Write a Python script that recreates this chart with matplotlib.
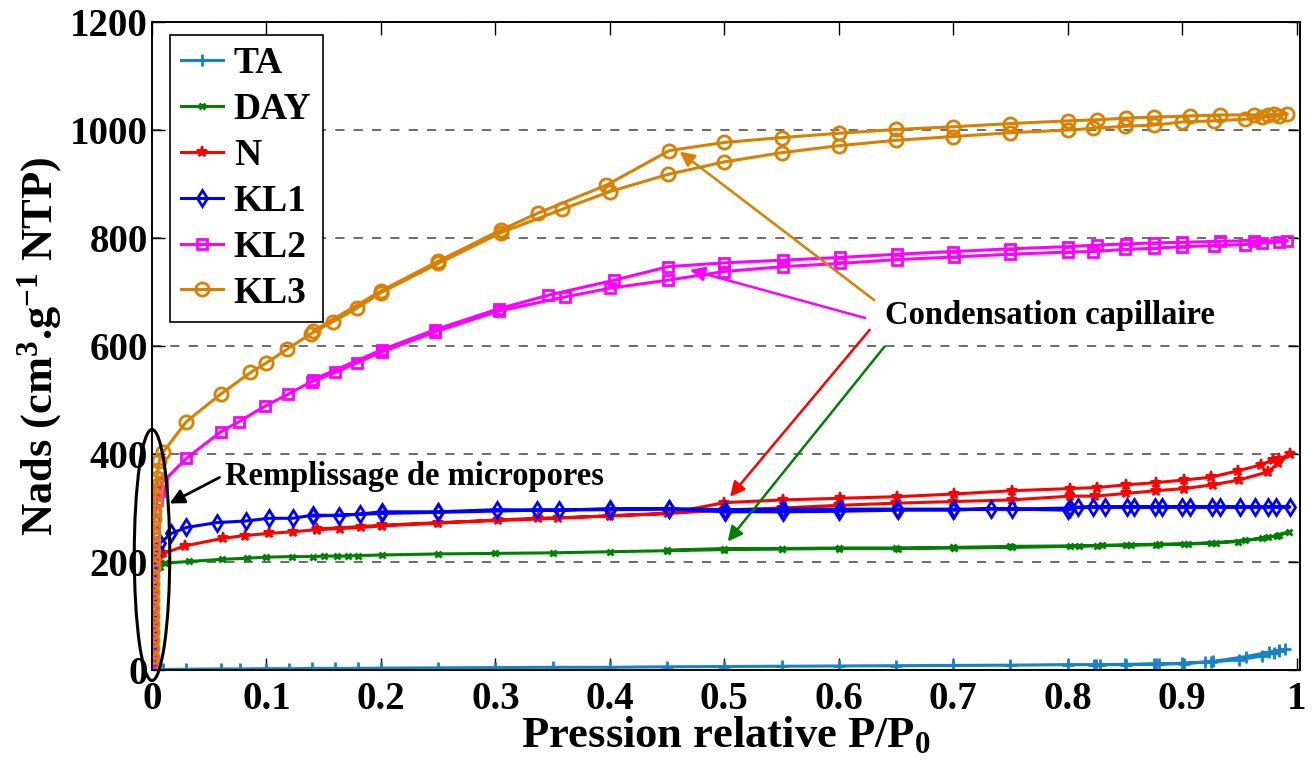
import matplotlib
matplotlib.use("Agg")
import matplotlib.pyplot as plt
from matplotlib.patches import Ellipse

# -------------------------
# DATA (adsorption then desorption)
# -------------------------

ta_p = [0.0099, 0.030, 0.060, 0.077, 0.100, 0.120, 0.140, 0.160, 0.180, 0.200,
        0.250, 0.300, 0.350, 0.400, 0.450, 0.500, 0.550, 0.600, 0.650, 0.700,
        0.750, 0.800, 0.825, 0.850, 0.875, 0.900, 0.925, 0.950, 0.970, 0.980,
        0.985, 0.990,
        0.985, 0.976, 0.956, 0.927, 0.920, 0.902, 0.880, 0.877, 0.851, 0.828, 0.823]
ta_n = [1, 1.5, 2, 2, 2.5, 2.5, 3, 3, 3, 3.5,
        4, 4.5, 5, 5, 6, 6.5, 7, 7.5, 8, 8.5,
        9, 10, 10, 10.5, 11, 12.5, 15, 19, 26, 31,
        35, 38,
        37, 33, 25, 16, 15, 12, 11, 11, 10, 10, 10]

day_p = [0.00001, 0.00003, 0.00006, 0.0001, 0.00016, 0.00025, 0.0004, 0.0006, 0.0009,
         0.0013, 0.002, 0.003, 0.0045,
         0.007, 0.011, 0.032, 0.061, 0.083, 0.100, 0.122, 0.141, 0.150, 0.162, 0.171,
         0.180, 0.2006, 0.250, 0.300, 0.350, 0.400, 0.450, 0.500, 0.550, 0.600, 0.652,
         0.701, 0.751, 0.802, 0.826, 0.851, 0.877, 0.902, 0.925, 0.949, 0.975, 0.983, 0.993,
         0.985, 0.970, 0.955, 0.930, 0.905, 0.880, 0.855, 0.830, 0.810, 0.750, 0.700,
         0.650, 0.600, 0.550, 0.500, 0.450]
day_n = [12, 28, 44, 60, 76, 92, 108, 124, 140,
         155, 168, 180, 188,
         191, 198, 201, 205, 207, 209, 210, 210, 211, 211, 211,
         212, 213, 215, 216, 217, 219, 221, 223, 224, 225, 225,
         226, 227, 229, 230, 231, 232, 233, 235, 238, 246, 248, 256,
         250, 244, 240, 236, 234, 233, 232, 231, 230, 229, 227,
         226, 226, 225, 225, 222]

n_p = [0.00001, 0.00003, 0.00006, 0.0001, 0.00016, 0.00025, 0.0004, 0.0006, 0.0009,
       0.0013, 0.002, 0.003, 0.0045, 0.0065,
       0.0099, 0.029, 0.062, 0.081, 0.102, 0.123, 0.144, 0.164, 0.183, 0.2006,
       0.250, 0.302, 0.337, 0.400, 0.451, 0.500, 0.550, 0.600, 0.650, 0.700,
       0.751, 0.802, 0.824, 0.851, 0.877, 0.902, 0.927, 0.950, 0.975, 0.984, 0.994,
       0.985, 0.979, 0.969, 0.949, 0.925, 0.902, 0.877, 0.851, 0.826, 0.802, 0.751,
       0.701, 0.651, 0.601, 0.551, 0.500, 0.451, 0.400, 0.355, 0.250, 0.2006, 0.144]
n_n = [12, 28, 44, 60, 76, 92, 108, 124, 140,
       155, 170, 185, 198, 208,
       216, 230, 244, 249, 253, 256, 260, 262, 264, 267,
       272, 278, 281, 285, 290, 296, 300, 305, 309, 312,
       315, 322, 322, 327, 332, 336, 343, 352, 367, 383, 400,
       391, 389, 380, 369, 357, 352, 347, 343, 338, 336, 332,
       326, 321, 318, 315, 310, 290, 286, 281, 273, 268, 261]

kl1_p = [0.00001, 0.00003, 0.00006, 0.0001, 0.00016, 0.00025, 0.0004, 0.0006, 0.0009,
         0.0013, 0.002, 0.003, 0.0045, 0.007,
         0.017, 0.030, 0.0565, 0.082, 0.102, 0.123, 0.141, 0.163, 0.182, 0.2006,
         0.250, 0.301, 0.356, 0.400, 0.452, 0.501, 0.551, 0.601, 0.651, 0.701,
         0.751, 0.802, 0.822, 0.852, 0.876, 0.900, 0.926, 0.951, 0.964, 0.975, 0.994,
         0.982, 0.933, 0.907, 0.882, 0.858, 0.833, 0.809, 0.800, 0.733, 0.700,
         0.652, 0.600, 0.551, 0.501, 0.452, 0.400, 0.336, 0.250, 0.2006, 0.141]
kl1_n = [15, 35, 55, 75, 95, 115, 135, 155, 170,
         185, 200, 212, 224, 235,
         253, 264, 273, 276, 281, 281, 287, 286, 289, 293,
         293, 297, 296, 299, 299, 297, 298, 298, 298, 298,
         298, 300, 302, 302, 302, 302, 302, 302, 302, 302, 302,
         302, 302, 302, 302, 302, 302, 302, 296, 299, 296,
         296, 294, 293, 293, 298, 297, 296, 292, 290, 285]

kl2_p = [0.00001, 0.00002, 0.00004, 0.00007, 0.0001, 0.00014, 0.0002, 0.00028, 0.0004,
         0.00055, 0.00075, 0.001, 0.0014, 0.002, 0.003, 0.0045, 0.0065, 0.0085,
         0.030, 0.060, 0.076, 0.099, 0.119, 0.1395, 0.160, 0.179, 0.2006, 0.247,
         0.303, 0.361, 0.400, 0.451, 0.500, 0.551, 0.601, 0.651, 0.701, 0.750,
         0.800, 0.822, 0.850, 0.875, 0.900, 0.928, 0.955, 0.970, 0.985, 0.992,
         0.963, 0.933, 0.900, 0.875, 0.851, 0.826, 0.800, 0.750, 0.700, 0.651,
         0.601, 0.551, 0.500, 0.451, 0.404, 0.346, 0.303, 0.247, 0.2006, 0.141]
kl2_n = [15, 35, 55, 75, 95, 115, 135, 155, 175,
         195, 215, 235, 255, 275, 295, 315, 332, 346,
         392, 441, 460, 489, 511, 534, 551, 569, 589, 626,
         665, 691, 707, 722, 738, 747, 753, 760, 765, 770,
         774, 775, 779, 781, 784, 786, 788, 791, 793, 795,
         795, 794, 792, 791, 789, 787, 784, 780, 775, 770,
         764, 759, 754, 747, 722, 694, 669, 630, 593, 538]

kl3_p = [0.00001, 0.00002, 0.00004, 0.00006, 0.00008, 0.0001, 0.00013, 0.00016, 0.0002,
         0.00025, 0.0003, 0.00037, 0.00045, 0.00055, 0.00067, 0.0008, 0.001, 0.0012,
         0.0015, 0.0018, 0.0022, 0.0027, 0.0033, 0.004, 0.005, 0.0065, 0.0099,
         0.030, 0.060, 0.086, 0.100, 0.118, 0.139, 0.158, 0.179, 0.200, 0.250,
         0.305, 0.358, 0.400, 0.451, 0.500, 0.550, 0.600, 0.650, 0.700, 0.750,
         0.800, 0.822, 0.850, 0.875, 0.900, 0.928, 0.955, 0.970, 0.985, 0.992,
         0.980, 0.975, 0.963, 0.933, 0.907, 0.875, 0.851, 0.826, 0.800, 0.750,
         0.700, 0.650, 0.600, 0.550, 0.500, 0.452, 0.397, 0.337, 0.305, 0.250,
         0.200, 0.141]
kl3_n = [12, 25, 40, 55, 70, 85, 100, 115, 130,
         145, 160, 175, 190, 205, 220, 235, 250, 265,
         280, 295, 310, 325, 340, 355, 370, 388, 404,
         460, 511, 551, 569, 594, 623, 645, 670, 699, 753,
         810, 853, 886, 918, 941, 958, 971, 981, 988, 995,
         1000, 1003, 1007, 1009, 1015, 1017, 1020, 1024, 1026, 1030,
         1029, 1028, 1028, 1028, 1026, 1024, 1022, 1019, 1017, 1012,
         1006, 1001, 994, 986, 977, 962, 898, 846, 815, 757,
         702, 628]

# -------------------------
# STYLE
# -------------------------

plt.rcParams['font.family'] = ['Liberation Serif', 'DejaVu Serif']
plt.rcParams['font.weight'] = 'bold'
plt.rcParams['axes.labelweight'] = 'bold'
plt.rcParams['mathtext.fontset'] = 'custom'
plt.rcParams['mathtext.bf'] = 'Liberation Serif:bold'
plt.rcParams['mathtext.rm'] = 'Liberation Serif:bold'
plt.rcParams['mathtext.default'] = 'bf'

fig = plt.figure(figsize=(13.15, 7.6), dpi=100)
ax = fig.add_axes([0.1156, 0.1184, 0.8730, 0.8526])

# -------------------------
# CURVES
# -------------------------

ax.plot(ta_p, ta_n, color='#1584c6', lw=2.2, marker='+', ms=9, mew=2, label="TA")
ax.plot(day_p, day_n, color='#008000', lw=2.2, marker='x', ms=4.5, mew=2, label="DAY")
ax.plot(n_p, n_n, color='#ff0000', lw=2.2, marker='*', ms=8, mew=1.5, label="N")
ax.plot(kl1_p, kl1_n, color='#0000ff', lw=2.2, marker='d', ms=8.5, mew=2,
        mfc='none', label="KL1")
ax.plot(kl2_p, kl2_n, color='#ff00ff', lw=2.2, marker='s', ms=7, mew=2,
        mfc='none', label="KL2")
ax.plot(kl3_p, kl3_n, color='#d98000', lw=2.2, marker='o', ms=9.5, mew=2,
        mfc='none', label="KL3")

# -------------------------
# AXES
# -------------------------

ax.set_xlim(0, 1.003)
ax.set_ylim(0, 1200)
ax.set_xticks([0, 0.1, 0.2, 0.3, 0.4, 0.5, 0.6, 0.7, 0.8, 0.9, 1])
ax.set_xticklabels(["0", "0.1", "0.2", "0.3", "0.4", "0.5", "0.6", "0.7", "0.8", "0.9", "1"])
ax.set_yticks([0, 200, 400, 600, 800, 1000, 1200])
ax.tick_params(direction='in', length=9, width=1, top=True, right=True,
               labelsize=28)
ax.tick_params(axis='x', pad=8)
ax.tick_params(axis='y', pad=3)
for s in ax.spines.values():
    s.set_linewidth(1.4)

ax.set_axisbelow(True)
ax.yaxis.grid(True, linestyle=(0, (6, 6)), color='#444444', lw=1.1)

ax.set_xlabel("Pression relative P/P$_0$", fontsize=32, labelpad=-2)
ax.set_ylabel("Nads (cm$^3$.g$^{-1}$ NTP)", fontsize=32, labelpad=4)

leg = ax.legend(loc='upper left', bbox_to_anchor=(0.0157, 0.98), borderaxespad=0,
                fontsize=27, handlelength=1.1, handletextpad=0.3,
                labelspacing=0.29, borderpad=0.3, fancybox=False,
                edgecolor='black', framealpha=1)
leg.get_frame().set_linewidth(1.2)

# -------------------------
# ANNOTATIONS
# -------------------------

ax.add_patch(Ellipse((0.0, 213), width=0.031, height=465, fill=False,
                     ec='black', lw=2.2, clip_on=False, zorder=5))

ax.annotate("", xy=(0.0131, 306), xytext=(0.0611, 359),
            arrowprops=dict(arrowstyle='-|>', color='black', lw=2,
                            mutation_scale=22))
ax.text(0.064, 358, "Remplissage de micropores", fontsize=23.5,
        ha='left', va='center')

ax.text(0.640, 656, "Condensation capillaire", fontsize=23.5,
        ha='left', va='center',
        bbox=dict(facecolor='white', edgecolor='none', pad=2))

cond_arrows = [
    ((0.631, 685), (0.461, 960), '#d98000'),
    ((0.623, 652), (0.470, 741), '#ff00ff'),
    ((0.627, 630), (0.505, 321), '#ff0000'),
    ((0.640, 599), (0.503, 238), '#008000'),
]
for start, end, col in cond_arrows:
    ax.annotate("", xy=end, xytext=start,
                arrowprops=dict(arrowstyle='-|>', color=col, lw=1.8,
                                mutation_scale=22, shrinkA=0, shrinkB=0))

fig.savefig("out.png", dpi=100)
